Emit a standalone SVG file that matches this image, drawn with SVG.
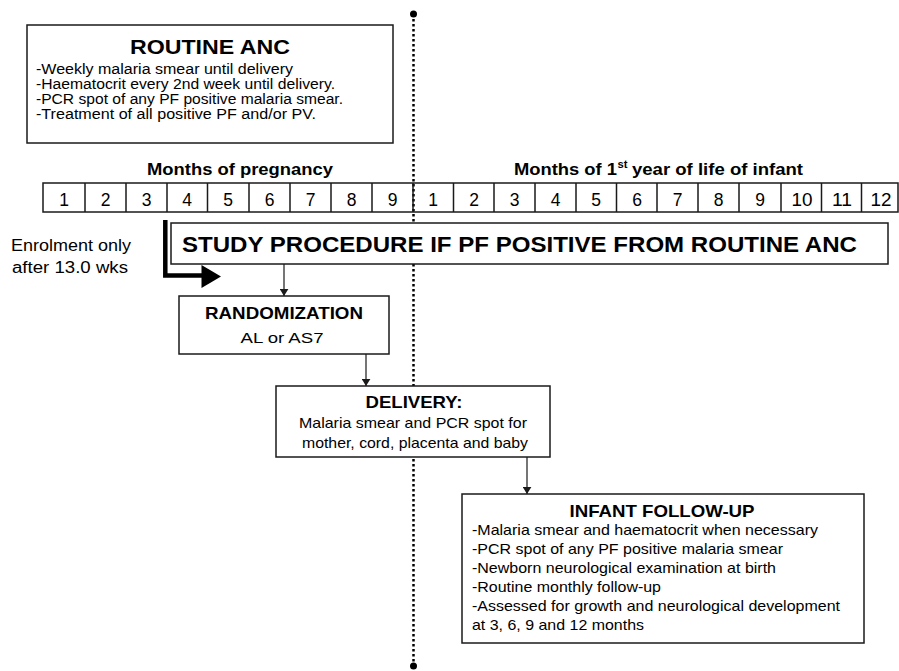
<svg xmlns="http://www.w3.org/2000/svg" width="899" height="671" viewBox="0 0 899 671">
<style>
  text { font-family: "Liberation Sans", Arial, Helvetica, sans-serif; fill: #000; }
  .b { font-weight: bold; }
  .c { text-anchor: middle; }
  .box { fill: #fff; stroke: #1a1a1a; stroke-width: 1.5; }
  .cell { fill: none; stroke: #1a1a1a; stroke-width: 1.5; }
  .arr { fill: none; stroke: #1a1a1a; stroke-width: 1.2; marker-end: url(#ah); }
  .dot { fill: none; stroke: #000; stroke-width: 2.5; stroke-dasharray: 2.5 2.5; }
  .body { font-size: 14.5px; }
  .dg { font-size: 17.5px; text-anchor: middle; }
</style>
<defs>
  <marker id="ah" viewBox="0 0 8 10" refX="8" refY="5" markerWidth="7" markerHeight="9" orient="auto" markerUnits="userSpaceOnUse">
    <path d="M0,0 L8,5 L0,10 z" fill="#1a1a1a"/>
  </marker>
</defs>
<rect x="0" y="0" width="899" height="671" fill="#fff"/>

<g id="connectors">
  <line class="dot" x1="413.5" y1="14" x2="413.5" y2="666"/>
  <circle cx="413.5" cy="14" r="3.5" fill="#000"/>
  <circle cx="413.5" cy="666" r="3.5" fill="#000"/>
  <path d="M165.3,220 V275.5 H204" fill="none" stroke="#000" stroke-width="4.5"/>
  <polygon points="201.5,265 221,276.5 201.5,288" fill="#000"/>
  <line class="arr" x1="284" y1="264" x2="284" y2="296"/>
  <line class="arr" x1="366" y1="354" x2="366" y2="386"/>
  <line class="arr" x1="527" y1="457" x2="527" y2="494"/>
</g>

<g id="routine-anc">
  <rect class="box" x="27" y="25" width="366" height="118"/>
  <text class="b c" x="210" y="54" font-size="20" textLength="160" lengthAdjust="spacingAndGlyphs">ROUTINE ANC</text>
  <text x="36" y="74" font-size="14" textLength="257" lengthAdjust="spacingAndGlyphs">-Weekly malaria smear until delivery</text>
  <text x="36" y="89" font-size="14" textLength="299" lengthAdjust="spacingAndGlyphs">-Haematocrit every 2nd week until delivery.</text>
  <text x="36" y="104" font-size="14" textLength="307" lengthAdjust="spacingAndGlyphs">-PCR spot of any PF positive malaria smear.</text>
  <text x="36" y="119" font-size="14" textLength="280" lengthAdjust="spacingAndGlyphs">-Treatment of all positive PF and/or PV.</text>
</g>

<g id="timeline">
  <text class="b c" x="240" y="175" font-size="16" textLength="186" lengthAdjust="spacingAndGlyphs">Months of pregnancy</text>
  <text class="b" x="514" y="175" font-size="16" textLength="103" lengthAdjust="spacingAndGlyphs">Months of 1</text>
  <text class="b" x="617.5" y="168" font-size="10.5" textLength="10" lengthAdjust="spacingAndGlyphs">st</text>
  <text class="b" x="632" y="175" font-size="16" textLength="171" lengthAdjust="spacingAndGlyphs">year of life of infant</text>
  <rect class="cell" x="43" y="183" width="855" height="29"/>
  <path class="cell" d="M85,183V212 M126,183V212 M167,183V212 M207.5,183V212 M249,183V212 M290,183V212 M331,183V212 M372,183V212 M413,183V212 M453.5,183V212 M494,183V212 M535,183V212 M576,183V212 M616.5,183V212 M657,183V212 M698,183V212 M739,183V212 M781,183V212 M821.5,183V212 M861.5,183V212"/>
  <text class="dg" x="64" y="206">1</text>
  <text class="dg" x="105.5" y="206">2</text>
  <text class="dg" x="146.5" y="206">3</text>
  <text class="dg" x="187" y="206">4</text>
  <text class="dg" x="228" y="206">5</text>
  <text class="dg" x="269.5" y="206">6</text>
  <text class="dg" x="310.5" y="206">7</text>
  <text class="dg" x="351.5" y="206">8</text>
  <text class="dg" x="392.5" y="206">9</text>
  <text class="dg" x="433" y="206">1</text>
  <text class="dg" x="474" y="206">2</text>
  <text class="dg" x="514.5" y="206">3</text>
  <text class="dg" x="555.5" y="206">4</text>
  <text class="dg" x="596" y="206">5</text>
  <text class="dg" x="637" y="206">6</text>
  <text class="dg" x="677.5" y="206">7</text>
  <text class="dg" x="718.5" y="206">8</text>
  <text class="dg" x="760" y="206">9</text>
  <text class="dg" x="802" y="206" textLength="21" lengthAdjust="spacingAndGlyphs">10</text>
  <text class="dg" x="842" y="206" textLength="20" lengthAdjust="spacingAndGlyphs">11</text>
  <text class="dg" x="881" y="206" textLength="21" lengthAdjust="spacingAndGlyphs">12</text>
</g>

<g id="enrolment-note">
  <text class="c" x="71" y="251" font-size="16" textLength="120" lengthAdjust="spacingAndGlyphs">Enrolment only</text>
  <text class="c" x="70" y="273" font-size="16" textLength="116" lengthAdjust="spacingAndGlyphs">after 13.0 wks</text>
</g>

<g id="study-procedure">
  <rect class="box" x="171" y="223" width="717" height="41" stroke-width="2"/>
  <text class="b" x="182" y="252" font-size="21.5" textLength="675" lengthAdjust="spacingAndGlyphs">STUDY PROCEDURE IF PF POSITIVE FROM ROUTINE ANC</text>
</g>

<g id="randomization">
  <rect class="box" x="179" y="296" width="210" height="58"/>
  <text class="b c" x="284" y="319" font-size="16.5" textLength="158" lengthAdjust="spacingAndGlyphs">RANDOMIZATION</text>
  <text class="c" x="282" y="343" font-size="15.5" textLength="83" lengthAdjust="spacingAndGlyphs">AL or AS7</text>
</g>

<g id="delivery">
  <rect class="box" x="276" y="386" width="274" height="71"/>
  <text class="b c" x="414" y="408" font-size="16.5" textLength="97" lengthAdjust="spacingAndGlyphs">DELIVERY:</text>
  <text class="c body" x="413" y="428" textLength="228" lengthAdjust="spacingAndGlyphs">Malaria smear and PCR spot for</text>
  <text class="c body" x="415" y="448" textLength="226" lengthAdjust="spacingAndGlyphs">mother, cord, placenta and baby</text>
</g>

<g id="infant-follow-up">
  <rect class="box" x="462" y="494" width="402" height="149"/>
  <text class="b c" x="662" y="517" font-size="16.5" textLength="185" lengthAdjust="spacingAndGlyphs">INFANT FOLLOW-UP</text>
  <text class="body" x="472" y="535" textLength="346" lengthAdjust="spacingAndGlyphs">-Malaria smear and haematocrit when necessary</text>
  <text class="body" x="472" y="554" textLength="311" lengthAdjust="spacingAndGlyphs">-PCR spot of any PF positive malaria smear</text>
  <text class="body" x="472" y="573" textLength="304" lengthAdjust="spacingAndGlyphs">-Newborn neurological examination at birth</text>
  <text class="body" x="472" y="592" textLength="189" lengthAdjust="spacingAndGlyphs">-Routine monthly follow-up</text>
  <text class="body" x="472" y="611" textLength="368" lengthAdjust="spacingAndGlyphs">-Assessed for growth and neurological development</text>
  <text class="body" x="472" y="630" textLength="172" lengthAdjust="spacingAndGlyphs">at 3, 6, 9 and 12 months</text>
</g>
</svg>
